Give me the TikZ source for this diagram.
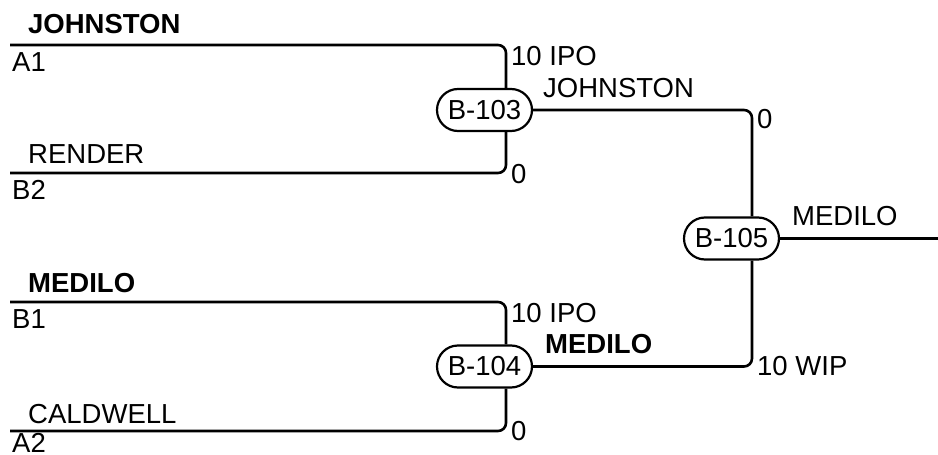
\documentclass[tikz,border=0pt]{standalone}
\usepackage{fontspec}
\setmainfont{Liberation Sans}
\begin{document}
\begin{tikzpicture}[x=1pt,y=-1pt,
  every node/.style={font=\fontsize{27.5}{32}\selectfont, inner sep=0pt},
  lbl/.style={anchor=base west},
  blbl/.style={anchor=base west, font=\fontsize{27.5}{32}\selectfont\bfseries},
  stad/.style={draw, line width=2.2pt, rounded corners=21pt, minimum width=95pt, minimum height=42pt},
  wire/.style={line width=2.6pt, rounded corners=8pt}]
\useasboundingbox (0,0) rectangle (938,455);
% bus nodes
\node[stad] (b103) at (484.5,110) {B-103};
\node[stad] (b104) at (484.5,366.5) {B-104};
\node[stad] (b105) at (731.5,238.5) {B-105};
% helper coordinates
\coordinate (v1) at (506,0);
\coordinate (v2) at (752,0);
\coordinate (a1) at (10,45);
\coordinate (b2) at (10,173);
\coordinate (b1) at (10,302);
\coordinate (a2) at (10,431);
\coordinate (out) at (938,238.5);
% connectors
\draw[wire] (a1) -| (b103.north -| v1);
\draw[wire] (b2) -| (b103.south -| v1);
\draw[wire] (b1) -| (b104.north -| v1);
\draw[wire] (a2) -| (b104.south -| v1);
\draw[wire] (b103.east) -| (b105.north -| v2);
\draw[wire] (b104.east) -| (b105.south -| v2);
\draw[wire] (b105.east) -- (out);
% left labels
\node[blbl] (tj) at (28,33) {JOHNSTON};
\node[lbl] (ta1) at (12,71) {A1};
\node[lbl] (tr) at (28,163) {RENDER};
\node[lbl] (tb2) at (12,199) {B2};
\node[blbl] (tm) at (28,292) {MEDILO};
\node[lbl] (tb1) at (12,328) {B1};
\node[lbl] (tc) at (28,423) {CALDWELL};
\node[lbl] (ta2) at (12,452) {A2};
% right labels
\node[lbl] (i1) at (511,65) {10 IPO};
\node[lbl] (z1) at (511,183) {0};
\node[lbl] (j2) at (543,97) {JOHNSTON};
\node[lbl] (i2) at (511,322) {10 IPO};
\node[lbl] (z2) at (511,440) {0};
\node[blbl] (m2) at (545,353) {MEDILO};
\node[lbl] (z3) at (757,128) {0};
\node[lbl] (w3) at (757,375) {10 WIP};
\node[lbl] (m3) at (792,225) {MEDILO};
\end{tikzpicture}
\end{document}
